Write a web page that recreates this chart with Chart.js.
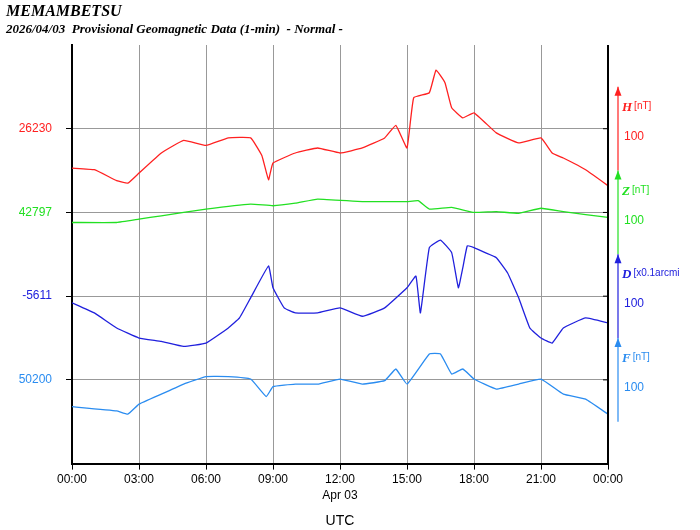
<!DOCTYPE html>
<html><head><meta charset="utf-8">
<script src="https://cdn.jsdelivr.net/npm/chart.js@4/dist/chart.umd.min.js"></script>
<style>
body{margin:0;background:#fff;width:700px;height:530px;overflow:hidden;font-family:"Liberation Serif",serif}
#t1{position:absolute;left:6px;top:2px;font:bold italic 16px "Liberation Serif";}
#t2{position:absolute;left:6px;top:21px;font:bold italic 13px "Liberation Serif";}
#c{position:absolute;left:0;top:0}
</style></head><body>
<canvas id="c" width="700" height="530"></canvas>
<div id="t1">MEMAMBETSU</div>
<div id="t2">2026/04/03&nbsp; Provisional Geomagnetic Data (1-min)&nbsp; - Normal -</div>
<script>
// horas (UTC) y valores
const hTimes = [0,1,2,2.5,3,4,5,6,7,8,8.5,8.8,9,10,11,12,13,14,14.5,15,15.3,16,16.3,16.7,17,17.5,18,19,20,21,21.5,22,23,24];
const hVals = [26183,26181,26168,26165,26177,26201,26216,26210,26219,26219,26198,26169,26189,26201,26207,26201,26207,26219,26234,26207,26267,26273,26300,26285,26255,26243,26249,26225,26213,26219,26201,26195,26181,26162];
const zTimes = [0,2,3,4,6,8,9,10,11,13,15,15.5,16,17,18,19,20,21,22,24];
const zVals = [42785,42785,42789,42793,42801,42807,42805,42808,42813,42810,42810,42811,42801,42803,42797,42798,42796,42802,42798,42791];
const dTimes = [0,1,2,3,4,5,6,7,7.5,8,8.8,9,9.5,10,11,12,13,14,15,15.4,15.6,16,16.5,17,17.3,17.5,17.7,18,18.5,19,19.5,20,20.5,21,21.5,22,23,24];
const dVals = [-5619,-5631,-5649,-5661,-5665,-5671,-5667,-5649,-5637,-5613,-5575,-5601,-5625,-5631,-5631,-5625,-5635,-5625,-5601,-5587,-5631,-5553,-5544,-5559,-5601,-5577,-5551,-5553,-5559,-5565,-5583,-5613,-5649,-5661,-5667,-5649,-5637,-5643];
const fTimes = [0,2,2.5,3,4,5,6,7,8,8.7,9,10,11,12,13,14,14.5,15,16,16.5,17,17.5,18,19,20,21,22,23,24];
const fVals = [50168,50163,50159,50171,50183,50195,50204,50204,50201,50180,50192,50195,50195,50201,50195,50199,50213,50195,50231,50231,50207,50213,50201,50189,50195,50201,50183,50177,50159];

const bases = [26230, 42797, -5611, 50200];
const levels = [400, 300, 200, 100];
const colors = ['#ff2020', '#22e022', '#2020dd', '#2a8cf0'];
const names = ['H', 'Z', 'D', 'F'];
const units = ['[nT]', '[nT]', '[x0.1arcmi', '[nT]'];
const xTicks = ['00:00','03:00','06:00','09:00','12:00','15:00','18:00','21:00','00:00'];

const series = [[hTimes,hVals],[zTimes,zVals],[dTimes,dVals],[fTimes,fVals]];
const datasets = series.map((s, i) => ({
  data: s[0].map((t, k) => ({ x: t, y: levels[i] + (s[1][k] - bases[i]) })),
  borderColor: colors[i], borderWidth: 1.3, pointRadius: 0, tension: 0.1, fill: false
}));

const extras = {
  id: 'extras',
  afterDraw(chart) {
    const ctx = chart.ctx, xs = chart.scales.x, ys = chart.scales.y;
    const ca = chart.chartArea;
    ctx.save();
    ctx.strokeStyle = '#000'; ctx.lineWidth = 2;
    ctx.beginPath(); ctx.moveTo(ca.right, ca.top); ctx.lineTo(ca.right, ca.bottom); ctx.stroke();
    ctx.lineWidth = 1;
    levels.forEach(l => { const y = ys.getPixelForValue(l); ctx.beginPath(); ctx.moveTo(ca.right - 5, y); ctx.lineTo(ca.right, y); ctx.stroke(); });
    const ax = ca.right + 10;
    for (let i = 0; i < 4; i++) {
      const lo = 50 + (3 - i) * 100, y0 = ys.getPixelForValue(lo), y1 = ys.getPixelForValue(lo + 100);
      ctx.strokeStyle = colors[i]; ctx.fillStyle = colors[i]; ctx.lineWidth = 1.2;
      ctx.beginPath(); ctx.moveTo(ax, y0); ctx.lineTo(ax, y1); ctx.stroke();
      ctx.beginPath(); ctx.moveTo(ax, y1); ctx.lineTo(ax - 3.5, y1 + 9); ctx.lineTo(ax + 3.5, y1 + 9); ctx.closePath(); ctx.fill();
      ctx.font = 'bold italic 13px "Liberation Serif"';
      ctx.fillText(names[i], ax + 4, y1 + 24);
      const w = ctx.measureText(names[i]).width;
      ctx.font = '10px "Liberation Sans"';
      ctx.fillText(units[i], ax + 6 + w, y1 + 22);
      ctx.font = '12px "Liberation Sans"';
      ctx.fillText('100', ax + 6, y1 + 53);
    }
    ctx.fillStyle = '#000'; ctx.textAlign = 'center';
    ctx.font = '12px "Liberation Sans"';
    ctx.fillText('Apr 03', xs.getPixelForValue(12), ca.bottom + 35);
    ctx.font = '14px "Liberation Sans"';
    ctx.fillText('UTC', xs.getPixelForValue(12), ca.bottom + 61);
    ctx.restore();
  }
};

new Chart(document.getElementById('c'), {
  type: 'line',
  data: { datasets },
  options: {
    responsive: false, animation: false,
    layout: { padding: { top: 45, right: 92, bottom: 40, left: 0 } },
    plugins: { legend: { display: false }, tooltip: { enabled: false } },
    scales: {
      x: {
        type: 'linear', min: 0, max: 24,
        afterBuildTicks: a => { a.ticks = [0,3,6,9,12,15,18,21,24].map(v => ({ value: v })); },
        ticks: { callback: (v, i) => xTicks[i], color: '#000', font: { size: 12, family: 'Liberation Sans' }, maxRotation: 0 },
        grid: { color: '#999', tickLength: 6, tickColor: '#000' },
        border: { color: '#000', width: 2 }
      },
      y: {
        min: 0, max: 500, afterFit: a => { a.width = 72; },
        afterBuildTicks: a => { a.ticks = levels.map(v => ({ value: v })); },
        ticks: {
          callback: v => String(bases[levels.indexOf(v)]),
          color: c => colors[levels.indexOf(c.tick.value)],
          font: { size: 12, family: 'Liberation Sans' }, padding: 14
        },
        grid: { color: '#999', tickLength: 6, tickColor: '#000' },
        border: { color: '#000', width: 2 }
      }
    }
  },
  plugins: [extras]
});
</script>
</body></html>
